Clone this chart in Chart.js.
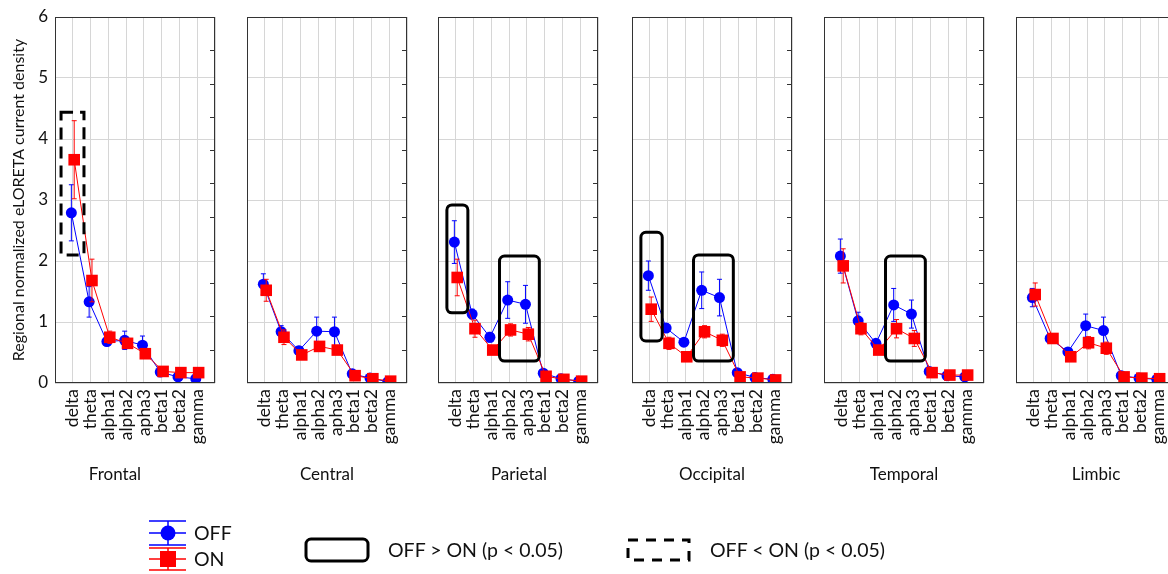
<!DOCTYPE html>
<html>
<head>
<meta charset="utf-8">
<script src="https://cdn.jsdelivr.net/npm/chart.js@4.4.1/dist/chart.umd.min.js"></script>
<style>
  html, body { margin: 0; padding: 0; background: #fff; overflow: hidden; }
  body { width: 1168px; height: 574px; position: relative; font-family: Lato, "Noto Sans", sans-serif; color: #111; }
  canvas.panel { position: absolute; top: 0; }
  .txt { position: absolute; white-space: nowrap; line-height: 1; transform: translateY(-50%); }
  .region { font-size: 17px; transform: translate(-50%, -50%); }
  .leg { font-size: 19.5px; }
  #legend { position: absolute; left: 0; top: 0; pointer-events: none; }
</style>
</head>
<body>
<canvas id="legend" width="1168" height="574"></canvas>
<script>
// bands on the x axis of each panel
const bands = ['delta', 'theta', 'alpha1', 'alpha2', 'apha3', 'beta1', 'beta2', 'gamma'];
const regions = ['Frontal', 'Central', 'Parietal', 'Occipital', 'Temporal', 'Limbic'];
const yTicks = [0, 1, 2, 3, 4, 5, 6];

// mean values
const offFrontal   = [2.79, 1.33, 0.68, 0.70, 0.62, 0.18, 0.10, 0.07];
const onFrontal    = [3.66, 1.68, 0.75, 0.65, 0.48, 0.19, 0.17, 0.17];
const offCentral   = [1.62, 0.84, 0.53, 0.85, 0.84, 0.15, 0.08, 0.02];
const onCentral    = [1.52, 0.75, 0.46, 0.60, 0.54, 0.12, 0.07, 0.03];
const offParietal  = [2.31, 1.13, 0.75, 1.36, 1.29, 0.16, 0.07, 0.03];
const onParietal   = [1.73, 0.89, 0.54, 0.87, 0.80, 0.11, 0.06, 0.03];
const offOccipital = [1.76, 0.90, 0.67, 1.52, 1.40, 0.17, 0.09, 0.06];
const onOccipital  = [1.21, 0.65, 0.43, 0.84, 0.70, 0.10, 0.08, 0.05];
const offTemporal  = [2.08, 1.02, 0.65, 1.28, 1.13, 0.19, 0.12, 0.10];
const onTemporal   = [1.92, 0.89, 0.54, 0.89, 0.73, 0.17, 0.13, 0.13];
const offLimbic    = [1.40, 0.73, 0.51, 0.94, 0.86, 0.12, 0.08, 0.06];
const onLimbic     = [1.45, 0.73, 0.43, 0.66, 0.57, 0.10, 0.08, 0.07];

// error bar half-widths
const offErrFrontal   = [0.46, 0.25, 0.07, 0.15, 0.15, 0.03, 0.03, 0.03];
const onErrFrontal    = [0.64, 0.35, 0.10, 0.07, 0.05, 0.03, 0.03, 0.03];
const offErrCentral   = [0.17, 0.10, 0.07, 0.23, 0.24, 0.03, 0.02, 0.01];
const onErrCentral    = [0.18, 0.12, 0.06, 0.08, 0.07, 0.03, 0.02, 0.01];
const offErrParietal  = [0.35, 0.08, 0.08, 0.30, 0.31, 0.04, 0.02, 0.01];
const onErrParietal   = [0.30, 0.14, 0.06, 0.10, 0.11, 0.03, 0.02, 0.01];
const offErrOccipital = [0.24, 0.07, 0.06, 0.30, 0.30, 0.04, 0.02, 0.01];
const onErrOccipital  = [0.20, 0.10, 0.05, 0.10, 0.10, 0.02, 0.02, 0.01];
const offErrTemporal  = [0.28, 0.14, 0.05, 0.27, 0.23, 0.03, 0.02, 0.02];
const onErrTemporal   = [0.28, 0.10, 0.05, 0.15, 0.13, 0.03, 0.02, 0.02];
const offErrLimbic    = [0.15, 0.05, 0.05, 0.19, 0.22, 0.03, 0.02, 0.01];
const onErrLimbic     = [0.19, 0.06, 0.05, 0.10, 0.10, 0.02, 0.02, 0.01];

// significance frames: [region, band from, band to, value low, value high]
const offGreater = [
  ['Parietal', -0.5, 0.68, 1.15, 2.92],
  ['Parietal', 2.46, 4.70, 0.36, 2.08],
  ['Occipital', -0.5, 0.70, 0.69, 2.47],
  ['Occipital', 2.46, 4.70, 0.36, 2.10],
  ['Temporal', 2.46, 4.70, 0.36, 2.08]
];
const offLess = [
  ['Frontal', -0.66, 0.63, 2.10, 4.44]
];

const offSeries = [offFrontal, offCentral, offParietal, offOccipital, offTemporal, offLimbic];
const onSeries = [onFrontal, onCentral, onParietal, onOccipital, onTemporal, onLimbic];
const offErrs = [offErrFrontal, offErrCentral, offErrParietal, offErrOccipital, offErrTemporal, offErrLimbic];
const onErrs = [onErrFrontal, onErrCentral, onErrParietal, onErrOccipital, onErrTemporal, onErrLimbic];

const BLUE = '#0000ff';
const RED = '#ff0000';
const panelLeft = [55, 247, 438, 632, 824, 1016];
const plotW = 160, plotTop = 17, plotBottom = 383, axisH = 80;
const titleX = [115, 327, 519, 712, 904, 1096];

function roundRect(ctx, x, y, w, h, r) {
  ctx.beginPath();
  ctx.moveTo(x + r, y);
  ctx.lineTo(x + w - r, y);
  ctx.arcTo(x + w, y, x + w, y + r, r);
  ctx.lineTo(x + w, y + h - r);
  ctx.arcTo(x + w, y + h, x + w - r, y + h, r);
  ctx.lineTo(x + r, y + h);
  ctx.arcTo(x, y + h, x, y + h - r, r);
  ctx.lineTo(x, y + r);
  ctx.arcTo(x, y, x + r, y, r);
  ctx.closePath();
}

const errorBars = {
  id: 'errorBars',
  beforeDatasetDraw(chart, args) {
    const ds = chart.data.datasets[args.index];
    const y = chart.scales.y, ctx = chart.ctx;
    ctx.save();
    ctx.strokeStyle = ds.borderColor;
    ctx.lineWidth = 1;
    args.meta.data.forEach((pt, i) => {
      const v = ds.data[i].y, e = ds.errors[i];
      const y1 = y.getPixelForValue(v + e), y2 = y.getPixelForValue(v - e);
      ctx.beginPath();
      ctx.moveTo(pt.x, y1); ctx.lineTo(pt.x, y2);
      ctx.moveTo(pt.x - 2.5, y1); ctx.lineTo(pt.x + 2.5, y1);
      ctx.moveTo(pt.x - 2.5, y2); ctx.lineTo(pt.x + 2.5, y2);
      ctx.stroke();
    });
    ctx.restore();
  }
};

const frame = {
  id: 'frame',
  afterDraw(chart) {
    const { ctx, chartArea: a } = chart;
    const y = chart.scales.y;
    ctx.save();
    ctx.strokeStyle = '#333';
    ctx.lineWidth = 1;
    ctx.strokeRect(a.left + 0.5, a.top + 0.5, a.width - 1, a.height - 1);
    // small inner ticks along the right edge
    ctx.beginPath();
    for (let k = 1; k <= 10; k++) {
      const py = Math.round(y.getPixelForValue(k * 6 / 11)) + 0.5;
      ctx.moveTo(a.right - 5, py); ctx.lineTo(a.right, py);
    }
    ctx.stroke();
    ctx.restore();
  }
};

const sigBoxes = {
  id: 'sigBoxes',
  afterDatasetsDraw(chart, args, opts) {
    const { ctx, scales: { x, y } } = chart;
    ctx.save();
    ctx.strokeStyle = '#000';
    ctx.lineWidth = 3;
    (opts.solid || []).forEach(b => {
      const x0 = x.getPixelForValue(b[1]), x1 = x.getPixelForValue(b[2]);
      const y0 = y.getPixelForValue(b[4]), y1 = y.getPixelForValue(b[3]);
      roundRect(ctx, x0, y0, x1 - x0, y1 - y0, 5);
      ctx.stroke();
    });
    ctx.setLineDash([12, 7]);
    (opts.dashed || []).forEach(b => {
      const x0 = x.getPixelForValue(b[1]), x1 = x.getPixelForValue(b[2]);
      const y0 = y.getPixelForValue(b[4]), y1 = y.getPixelForValue(b[3]);
      ctx.strokeRect(x0, y0, x1 - x0, y1 - y0);
    });
    ctx.restore();
  }
};

const pts = (vals, dx) => vals.map((v, i) => ({ x: i + dx, y: v }));

regions.forEach((name, r) => {
  const first = r === 0;
  const padL = first ? 55 : 0;
  const cv = document.createElement('canvas');
  cv.className = 'panel';
  cv.width = padL + plotW + 5;
  cv.height = 574;
  cv.style.left = (panelLeft[r] - padL) + 'px';
  document.body.appendChild(cv);

  const t = document.createElement('div');
  t.className = 'txt region';
  t.style.left = titleX[r] + 'px';
  t.style.top = '473px';
  t.textContent = name;
  document.body.appendChild(t);

  new Chart(cv, {
    type: 'line',
    data: {
      datasets: [
        { label: 'ON', data: pts(onSeries[r], 0.08), errors: onErrs[r], order: 0,
          borderColor: RED, backgroundColor: RED, borderWidth: 1,
          pointStyle: 'rect', pointRadius: 8.2, pointBorderWidth: 0 },
        { label: 'OFF', data: pts(offSeries[r], -0.08), errors: offErrs[r], order: 1,
          borderColor: BLUE, backgroundColor: BLUE, borderWidth: 1,
          pointStyle: 'circle', pointRadius: 5.5, pointBorderWidth: 0 }
      ]
    },
    options: {
      responsive: false,
      animation: false,
      events: [],
      layout: { autoPadding: false, padding: { top: plotTop, right: 5, left: 0, bottom: 574 - plotBottom - axisH } },
      plugins: {
        legend: { display: false },
        tooltip: { enabled: false },
        sigBoxes: {
          solid: offGreater.filter(b => b[0] === name),
          dashed: offLess.filter(b => b[0] === name)
        }
      },
      scales: {
        x: {
          type: 'linear', min: -1, max: 8,
          afterBuildTicks: s => { s.ticks = [-1, 0, 1, 2, 3, 4, 5, 6, 7, 8].map(v => ({ value: v })); },
          afterFit: s => { s.height = axisH; s.paddingLeft = 0; s.paddingRight = 0; },
          ticks: {
            autoSkip: false, minRotation: 90, maxRotation: 90, padding: 6,
            color: '#111', font: { family: 'Lato', size: 17.5 },
            callback: v => bands[v] || ''
          },
          grid: { color: '#d6d6d6', drawTicks: false },
          border: { display: false }
        },
        y: {
          min: 0, max: 6,
          afterBuildTicks: s => { s.ticks = yTicks.map(v => ({ value: v })); },
          afterFit: s => { s.width = padL; s.paddingTop = 0; s.paddingBottom = 0; },
          ticks: { display: first, padding: 7, color: '#111', font: { family: 'Lato', size: 17 } },
          grid: { color: '#d6d6d6', drawTicks: false },
          border: { display: false },
          title: {
            display: first, text: 'Regional normalized eLORETA current density',
            color: '#111', font: { family: 'Lato', size: 16 }, padding: { top: 9, bottom: 0 }
          }
        }
      }
    },
    plugins: [errorBars, sigBoxes, frame]
  });
});

// legend
const lg = document.getElementById('legend').getContext('2d');
function legSymbol(color, cy, top, bottom, marker) {
  lg.strokeStyle = color; lg.fillStyle = color; lg.lineWidth = 1.5;
  lg.beginPath();
  [top, cy, bottom].forEach(py => { lg.moveTo(149, py); lg.lineTo(186, py); });
  lg.moveTo(168, top); lg.lineTo(168, bottom);
  lg.stroke();
  marker();
}
legSymbol(BLUE, 533, 521, 545, () => { lg.beginPath(); lg.arc(168, 533, 7.5, 0, Math.PI * 2); lg.fill(); });
legSymbol(RED, 559, 548, 570, () => { lg.fillRect(160, 551, 16, 16); });
lg.strokeStyle = '#000'; lg.lineWidth = 3;
roundRect(lg, 306, 539, 62, 22, 5); lg.stroke();
lg.setLineDash([10, 8]);
lg.strokeRect(628, 540, 61, 20);

[['OFF', 194, 533], ['ON', 194, 559], ['OFF > ON (p < 0.05)', 388, 550], ['OFF < ON (p < 0.05)', 710, 550]].forEach(([s, x, y]) => {
  const d = document.createElement('div');
  d.className = 'txt leg';
  d.style.left = x + 'px'; d.style.top = y + 'px';
  d.textContent = s;
  document.body.appendChild(d);
});
</script>
</body>
</html>
